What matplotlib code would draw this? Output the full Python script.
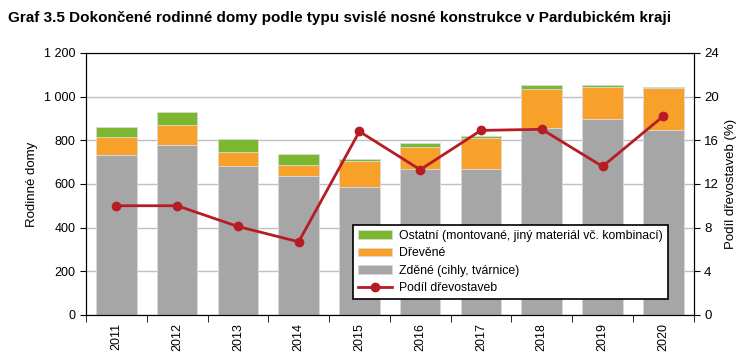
import numpy as np
import matplotlib.pyplot as plt
from matplotlib.ticker import FuncFormatter

plt.rcParams['font.family'] = ['Liberation Sans', 'DejaVu Sans']

# Data
roky = ['2011', '2012', '2013', '2014', '2015', '2016', '2017', '2018', '2019', '2020']
zdene = [731, 777, 680, 638, 585, 667, 669, 854, 899, 846]
drevene = [86, 93, 65, 49, 119, 104, 139, 180, 145, 191]
ostatni = [43, 57, 60, 49, 12, 17, 12, 17, 11, 6]
podil = [10.0, 10.0, 8.1, 6.7, 16.8, 13.3, 16.9, 17.0, 13.6, 18.2]

c_green = '#7cb82f'
c_orange = '#f7a12b'
c_gray = '#a6a6a6'
c_red = '#b71c24'

fig = plt.figure(figsize=(7.54, 3.62), dpi=100)
ax = fig.add_axes([0.114, 0.130, 0.806, 0.724])
ax2 = ax.twinx()

x = np.arange(len(roky))
w = 0.667
zdene = np.array(zdene)
drevene = np.array(drevene)
ostatni = np.array(ostatni)

b1 = ax.bar(x, zdene, w, color=c_gray, edgecolor='#d9d9d9', linewidth=0.6, zorder=2)
b2 = ax.bar(x, drevene, w, bottom=zdene, color=c_orange, edgecolor='#d9d9d9', linewidth=0.6, zorder=2)
b3 = ax.bar(x, ostatni, w, bottom=zdene + drevene, color=c_green, edgecolor='#d9d9d9', linewidth=0.6, zorder=2)

l1, = ax2.plot(x, podil, '-o', color=c_red, linewidth=2, markersize=6, zorder=3)

ax.set_xlim(-0.5, len(roky) - 0.5)
ax.set_ylim(0, 1200)
ax.set_yticks(np.arange(0, 1201, 200))
ax.yaxis.set_major_formatter(FuncFormatter(lambda v, p: f'{int(v):,}'.replace(',', ' ')))
ax2.set_ylim(0, 24)
ax2.set_yticks(np.arange(0, 25, 4))

ax.set_xticks(x)
ax.set_xticklabels(roky, rotation=90)
ax.set_xticks(np.arange(-0.5, len(roky), 1), minor=True)
ax.tick_params(axis='x', which='major', length=0, pad=6)
ax.tick_params(axis='x', which='minor', length=5, direction='out')
ax.tick_params(axis='y', length=4, direction='out', labelsize=9)
ax2.tick_params(axis='y', length=4, direction='out', labelsize=9.5)
ax.tick_params(axis='x', labelsize=9)

ax.grid(axis='y', color='#bfbfbf', linewidth=1, zorder=0)
ax.set_axisbelow(True)

ax.set_ylabel('Rodinné domy', fontsize=9.5)
ax2.set_ylabel('Podíl dřevostaveb (%)', fontsize=9.5)

leg = ax2.legend([b3, b2, b1, l1],
                 ['Ostatní (montované, jiný materiál vč. kombinací)', 'Dřevěné',
                  'Zděné (cihly, tvárnice)', 'Podíl dřevostaveb'],
                 loc='lower left', bbox_to_anchor=(0.439, 0.061), fontsize=8.8,
                 frameon=True, fancybox=False, framealpha=1, edgecolor='black',
                 borderpad=0.4, labelspacing=0.45, handlelength=2.8, handletextpad=0.6,
                 borderaxespad=0)
leg.get_frame().set_linewidth(1.2)

fig.text(0.011, 0.95, 'Graf 3.5 Dokončené rodinné domy podle typu svislé nosné konstrukce v Pardubickém kraji',
         fontsize=11, fontweight='bold', va='center', ha='left')

fig.savefig('out.png', dpi=100)
